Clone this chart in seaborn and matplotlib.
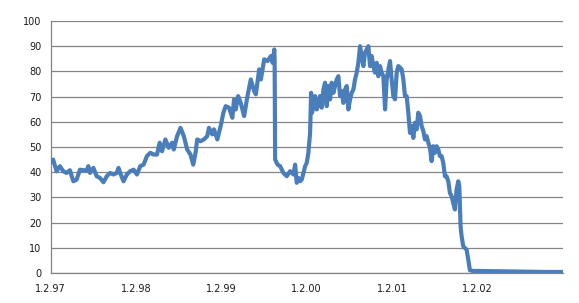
import numpy as np
import pandas as pd
import matplotlib
matplotlib.use("Agg")
import matplotlib.pyplot as plt
import seaborn as sns

# years elapsed since 1 Feb 1997
years = [0, 0.031, 0.071, 0.110, 0.149, 0.188, 0.227, 0.267, 0.306, 0.345, 0.384, 0.424, 0.443, 0.463,
         0.502, 0.541, 0.580, 0.620, 0.659, 0.698, 0.737, 0.776, 0.796, 0.816, 0.855, 0.894, 0.933,
         0.973, 1.012, 1.051, 1.090, 1.129, 1.169, 1.208, 1.247, 1.278, 1.306, 1.345, 1.384, 1.424,
         1.443, 1.482, 1.522, 1.561, 1.600, 1.639, 1.671, 1.698, 1.718, 1.757, 1.796, 1.835, 1.855,
         1.894, 1.914, 1.953, 1.992, 2.024, 2.051, 2.090, 2.129, 2.149, 2.169, 2.196, 2.227, 2.267,
         2.306, 2.345, 2.384, 2.404, 2.443, 2.463, 2.502, 2.541, 2.580, 2.600, 2.620, 2.624, 2.630,
         2.659,
         2.688, 2.727, 2.766, 2.805, 2.844, 2.864, 2.883, 2.903, 2.922, 2.942, 2.961, 2.981, 3.000,
         3.019, 3.039, 3.051, 3.062, 3.078, 3.097, 3.117, 3.136, 3.156, 3.175, 3.195, 3.214, 3.234,
         3.253, 3.273, 3.292, 3.312, 3.331, 3.351, 3.370, 3.390, 3.409, 3.429, 3.448, 3.468, 3.487,
         3.507, 3.526, 3.546, 3.565, 3.585, 3.604, 3.624, 3.643, 3.663, 3.682, 3.702, 3.721, 3.741,
         3.760, 3.780, 3.799, 3.819, 3.838, 3.858, 3.877, 3.897, 3.917, 3.936, 3.956, 3.975, 3.994,
         4.014, 4.033, 4.053, 4.072, 4.092, 4.111, 4.131, 4.150, 4.170, 4.189, 4.209, 4.228, 4.248,
         4.267, 4.287, 4.306, 4.326, 4.345, 4.365, 4.384, 4.404, 4.423, 4.442, 4.462, 4.481, 4.501,
         4.520, 4.540, 4.559, 4.579, 4.598, 4.618, 4.637, 4.657, 4.676, 4.696, 4.715, 4.735, 4.754,
         4.774, 4.786, 4.801, 4.813, 4.832, 4.852, 4.871, 4.891, 4.910, 4.949, 5.027, 5.222, 5.417,
         5.612, 5.807, 6.002]

values = [43.7, 45.0, 40.4, 42.4, 40.4, 39.7, 40.8, 36.4, 37.1, 41.0, 40.8, 40.7, 42.4, 39.7,
          41.7, 38.4, 37.7, 36.0, 38.4, 39.7, 39.1, 39.7, 41.7, 39.7, 36.4, 39.1, 40.4,
          41.0, 39.1, 42.4, 43.0, 46.4, 47.7, 47.0, 47.0, 51.7, 48.3, 53.0, 49.7, 51.7,
          49.0, 54.3, 57.6, 54.3, 49.0, 47.0, 43.0, 47.7, 53.0, 52.3, 53.0, 54.3, 57.6,
          55.0, 57.0, 53.0, 58.3, 63.6, 66.2, 65.6, 61.6, 68.9, 64.9, 70.2, 67.5, 62.3,
          70.2, 76.8, 72.2, 70.9, 80.8, 76.8, 84.8, 84.1, 86.1, 83.4, 88.7, 84.0, 45.0,
          43.0,
          42.4, 39.7, 38.4, 40.4, 39.1, 43.0, 35.8, 37.7, 36.4, 37.1, 39.7, 42.4, 43.7,
          47.7, 55.6, 71.5, 63.6, 66.2, 70.2, 64.9, 67.5, 70.2, 65.6, 72.8, 75.5, 66.2,
          74.2, 68.9, 75.5, 71.5, 74.2, 76.8, 78.1, 70.2, 72.2, 67.5, 72.8, 74.2, 64.9,
          68.9, 71.5, 72.8, 76.8, 79.5, 83.4, 90.0, 86.1, 82.1, 87.4, 88.7, 90.0, 82.1,
          86.1, 82.1, 79.5, 83.4, 78.1, 82.1, 79.5, 78.1, 64.9, 76.8, 80.8, 84.1, 76.8,
          70.2, 68.9, 79.5, 82.1, 81.5, 80.8, 76.8, 70.2, 70.2, 63.6, 55.6, 58.3, 53.6,
          59.6, 57.0, 63.6, 62.3, 58.3, 56.3, 53.0, 54.3, 51.7, 49.7, 44.4, 50.3, 47.7,
          50.3, 49.0, 46.4, 46.4, 43.7, 38.4, 38.4, 36.4, 31.8, 30.5, 27.8, 25.2, 33.1,
          36.4, 34.4, 18.5, 14.6, 10.6, 9.9, 9.3, 5.3, 1.1, 0.8, 0.8, 0.7, 0.6,
          0.5, 0.4, 0.4]

tick_years = [0, 1, 2, 3, 4, 5]
tick_labels = ["1.2.97", "1.2.98", "1.2.99", "1.2.00", "1.2.01", "1.2.02"]
y_ticks = list(range(0, 101, 10))

df = pd.DataFrame({"t": years, "v": values})

sns.set_style("white")
plt.rcParams['font.family'] = ['DejaVu Sans']

fig = plt.figure(figsize=(5.79, 3.03), dpi=100)
ax = fig.add_axes([50.5 / 579, 1 - 273 / 303, (563 - 50.5) / 579, (273 - 21) / 303])

sns.lineplot(data=df, x="t", y="v", ax=ax, color="#4A7EBB", linewidth=3.0, zorder=3)

ax.set_xlim(0, 6.0)
ax.set_ylim(0, 100)
ax.set_yticks(y_ticks)
ax.set_xticks(tick_years)
ax.set_xticklabels(tick_labels)
ax.set_xlabel("")
ax.set_ylabel("")

ax.grid(axis="y", color="#858585", linewidth=0.9, zorder=0)
ax.grid(axis="x", visible=False)
for s in ["top", "right"]:
    ax.spines[s].set_visible(False)
for s in ["left", "bottom"]:
    ax.spines[s].set_color("#858585")
    ax.spines[s].set_linewidth(0.9)

ax.tick_params(axis="both", which="major", labelsize=7, colors="#858585",
               labelcolor="#1a1a1a", direction="out", width=0.9)
ax.tick_params(axis="y", length=4, pad=2.5)
ax.tick_params(axis="x", length=4, pad=4)

fig.savefig("out.png", dpi=100)
